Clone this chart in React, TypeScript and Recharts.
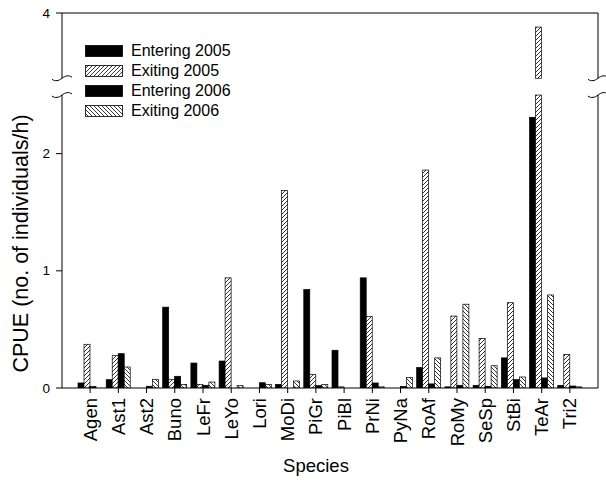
import React from 'react';
import { BarChart, Bar, XAxis, YAxis, Legend, ReferenceLine, Label } from 'recharts';

const species = ['Agen', 'Ast1', 'Ast2', 'Buno', 'LeFr', 'LeYo', 'Lori', 'MoDi', 'PiGr', 'PiBl', 'PrNi', 'PyNa', 'RoAf', 'RoMy', 'SeSp', 'StBi', 'TeAr', 'Tri2'];
const entering2005 = [0.043, 0.071, 0, 0.69, 0.213, 0.23, 0, 0.031, 0.84, 0.322, 0.94, 0, 0.175, 0.01, 0.023, 0.257, 2.31, 0.023];
const exiting2005 = [0.373, 0.276, 0, 0.071, 0.031, 0.94, 0, 1.686, 0.117, 0.01, 0.61, 0, 1.86, 0.614, 0.423, 0.728, 3.88, 0.286];
const entering2006 = [0.012, 0.293, 0.015, 0.1, 0.023, 0, 0.045, 0, 0.02, 0, 0.043, 0.014, 0.035, 0.023, 0.015, 0.072, 0.086, 0.017];
const exiting2006 = [0, 0.179, 0.074, 0.031, 0.051, 0.02, 0.03, 0.06, 0.029, 0, 0.01, 0.089, 0.257, 0.715, 0.19, 0.094, 0.794, 0.01];
const yTickLabels = [0, 1, 2, 4];
const seriesNames = ['Entering 2005', 'Exiting 2005', 'Entering 2006', 'Exiting 2006'];

// axis break: lower segment 0..2.5, upper segment ~3.44..4
const LOWER_MAX = 2.5;
const UPPER_MIN = 3.443;
const UPPER_MAX = 4;
const BREAK_GAP = 0.143;
const SHIFT = UPPER_MIN - (LOWER_MAX + BREAK_GAP);
const DISPLAY_MAX = UPPER_MAX - SHIFT;
const toDisplay = (v: number) => (v <= LOWER_MAX ? v : Math.max(v - SHIFT, LOWER_MAX + BREAK_GAP));
const toReal = (d: number) => (d >= LOWER_MAX + BREAK_GAP - 1e-9 ? d + SHIFT : d);
const isBreak = (d: number) => Math.abs(d - LOWER_MAX) < 1e-9 || Math.abs(d - (LOWER_MAX + BREAK_GAP)) < 1e-9;

const FONT = '"Liberation Sans", Arial, sans-serif';
const W = 606;
const H = 483;
const M_TOP = 13;
const X_AXIS_H = 95;
const Y_AXIS_W = 62;
const R_AXIS_W = 8;
const PLOT_H = H - M_TOP - X_AXIS_H;
const PPU = PLOT_H / DISPLAY_MAX;
const axisDash = `${(DISPLAY_MAX - LOWER_MAX - BREAK_GAP) * PPU} ${BREAK_GAP * PPU} 3000`;

const data = species.map((s, i) => ({
  species: s,
  e05: entering2005[i],
  x05: exiting2005[i],
  e06: entering2006[i],
  x06: exiting2006[i],
}));

const series = [
  { key: 'e05', name: seriesNames[0], fill: '#000', hatch: null as null | string },
  { key: 'x05', name: seriesNames[1], fill: 'url(#hatch05)', hatch: '/' },
  { key: 'e06', name: seriesNames[2], fill: '#000', hatch: null },
  { key: 'x06', name: seriesNames[3], fill: 'url(#hatch06)', hatch: '\\' },
];

const hatchPath = (dir: string) =>
  dir === '/' ? 'M-1,1 L1,-1 M0,4 L4,0 M3,5 L5,3' : 'M-1,3 L1,5 M0,0 L4,4 M3,-1 L5,1';

const HatchPattern = ({ id, dir }: { id: string; dir: string }) => (
  <pattern id={id} patternUnits="userSpaceOnUse" width={4} height={4}>
    <rect x={0} y={0} width={4} height={4} fill="#fff" />
    <path d={hatchPath(dir)} stroke="#000" strokeWidth={0.8} />
  </pattern>
);

const wave = (x: number, y: number) =>
  `M${x - 10},${y + 1} C${x - 7},${y + 3.5} ${x - 3},${y + 2.5} ${x},${y} C${x + 3},${y - 2.5} ${x + 7},${y - 3.5} ${x + 10},${y - 1}`;

const BrokenRect = (props: any) => {
  const { x, y, width, height, fill, payload, rawKey } = props;
  if (!height || height <= 0.01) return null;
  const dv = toDisplay(payload[rawKey]);
  const common = { fill, stroke: '#000', strokeWidth: 0.7 };
  if (dv <= LOWER_MAX || dv <= 0) {
    return <rect x={x} y={y} width={width} height={height} {...common} />;
  }
  const ppu = height / dv;
  const bottom = y + height;
  const yLowTop = bottom - LOWER_MAX * ppu;
  const yUpBottom = bottom - (LOWER_MAX + BREAK_GAP) * ppu;
  return (
    <g>
      <rect x={x} y={y} width={width} height={yUpBottom - y} {...common} />
      <rect x={x} y={yLowTop} width={width} height={bottom - yLowTop} {...common} />
    </g>
  );
};

const LeftTick = (props: any) => {
  const { x, y, payload } = props;
  const d = payload.value;
  if (isBreak(d)) {
    return <path d={wave(x, y)} fill="none" stroke="#000" strokeWidth={1} />;
  }
  const real = Math.round(toReal(d) * 100) / 100;
  return (
    <g>
      <line x1={x - 6} x2={x} y1={y} y2={y} stroke="#000" strokeWidth={1} />
      <text x={x - 12} y={y} textAnchor="end" dominantBaseline="central" fontSize={13.5} fontFamily={FONT} fill="#000">
        {String(real)}
      </text>
    </g>
  );
};

const RightTick = (props: any) => {
  const { x, y, payload } = props;
  if (!isBreak(payload.value)) return null;
  return <path d={wave(x, y)} fill="none" stroke="#000" strokeWidth={1} />;
};

const XTick = (props: any) => {
  const { x, y, payload } = props;
  return (
    <text
      x={x}
      y={y}
      transform={`rotate(-90 ${x} ${y})`}
      textAnchor="end"
      dominantBaseline="central"
      fontSize={18.5}
      fontFamily={FONT}
      fill="#000"
    >
      {payload.value}
    </text>
  );
};

const renderLegend = () => (
  <div style={{ fontFamily: FONT, fontSize: 16, color: '#000' }}>
    {series.map((s, i) => (
      <div key={s.name} style={{ display: 'flex', alignItems: 'center', height: 20, lineHeight: '20px' }}>
        <svg width={38} height={12} style={{ marginRight: 8, display: 'block' }}>
          {s.hatch ? (
            <defs>
              <HatchPattern id={`lg${i}`} dir={s.hatch} />
            </defs>
          ) : null}
          <rect
            x={0.5}
            y={0.5}
            width={37}
            height={11}
            fill={s.hatch ? `url(#lg${i})` : '#000'}
            stroke="#000"
            strokeWidth={0.8}
          />
        </svg>
        <span>{s.name}</span>
      </div>
    ))}
  </div>
);

const leftTicks = [...yTickLabels.map(toDisplay), LOWER_MAX, LOWER_MAX + BREAK_GAP].sort((a, b) => a - b);

export default function App() {
  return (
    <div style={{ position: 'absolute', left: 0, top: 0, background: '#fff' }}>
      <BarChart
        width={W}
        height={H}
        data={data}
        margin={{ top: M_TOP, right: 0, bottom: 0, left: 0 }}
        barCategoryGap={2}
        barGap={0}
      >
        <defs>
          <HatchPattern id="hatch05" dir="/" />
          <HatchPattern id="hatch06" dir="\\" />
        </defs>
        <XAxis
          dataKey="species"
          type="category"
          interval={0}
          height={X_AXIS_H}
          padding={{ left: 14, right: 14 }}
          tickSize={5}
          tickMargin={5}
          stroke="#000"
          axisLine={{ stroke: '#000', strokeWidth: 1 }}
          tickLine={{ stroke: '#000', strokeWidth: 1 }}
          tick={<XTick />}
        >
          <Label
            content={() => (
              <text x={316} y={472} textAnchor="middle" fontSize={18.5} fontFamily={FONT} fill="#000">
                Species
              </text>
            )}
          />
        </XAxis>
        <YAxis
          yAxisId="left"
          width={Y_AXIS_W}
          domain={[0, DISPLAY_MAX]}
          allowDataOverflow
          type="number"
          ticks={leftTicks}
          interval={0}
          tickSize={0}
          tickMargin={0}
          tickLine={false}
          axisLine={{ stroke: '#000', strokeWidth: 1, strokeDasharray: axisDash }}
          tick={<LeftTick />}
        >
          <Label
            content={() => (
              <text
                x={21}
                y={243.5}
                transform="rotate(-90 21 243.5)"
                textAnchor="middle"
                dominantBaseline="central"
                fontSize={21.5}
                fontFamily={FONT}
                fill="#000"
              >
                CPUE (no. of individuals/h)
              </text>
            )}
          />
        </YAxis>
        <YAxis
          yAxisId="right"
          orientation="right"
          width={R_AXIS_W}
          domain={[0, DISPLAY_MAX]}
          allowDataOverflow
          type="number"
          ticks={[LOWER_MAX, LOWER_MAX + BREAK_GAP]}
          interval={0}
          tickSize={0}
          tickMargin={0}
          tickLine={false}
          axisLine={{ stroke: '#000', strokeWidth: 1, strokeDasharray: axisDash }}
          tick={<RightTick />}
        />
        <ReferenceLine yAxisId="left" y={DISPLAY_MAX} stroke="#000" strokeWidth={1} />
        {series.map((s) => (
          <Bar
            key={s.key}
            yAxisId="left"
            name={s.name}
            dataKey={(row: any) => toDisplay(row[s.key])}
            fill={s.fill}
            stroke="#000"
            isAnimationActive={false}
            shape={(p: any) => <BrokenRect {...p} fill={s.fill} rawKey={s.key} />}
          />
        ))}
        <Legend
          layout="vertical"
          align="center"
          verticalAlign="middle"
          content={renderLegend}
          wrapperStyle={{ left: 85, top: 41, width: 'auto', height: 'auto' }}
        />
      </BarChart>
    </div>
  );
}
